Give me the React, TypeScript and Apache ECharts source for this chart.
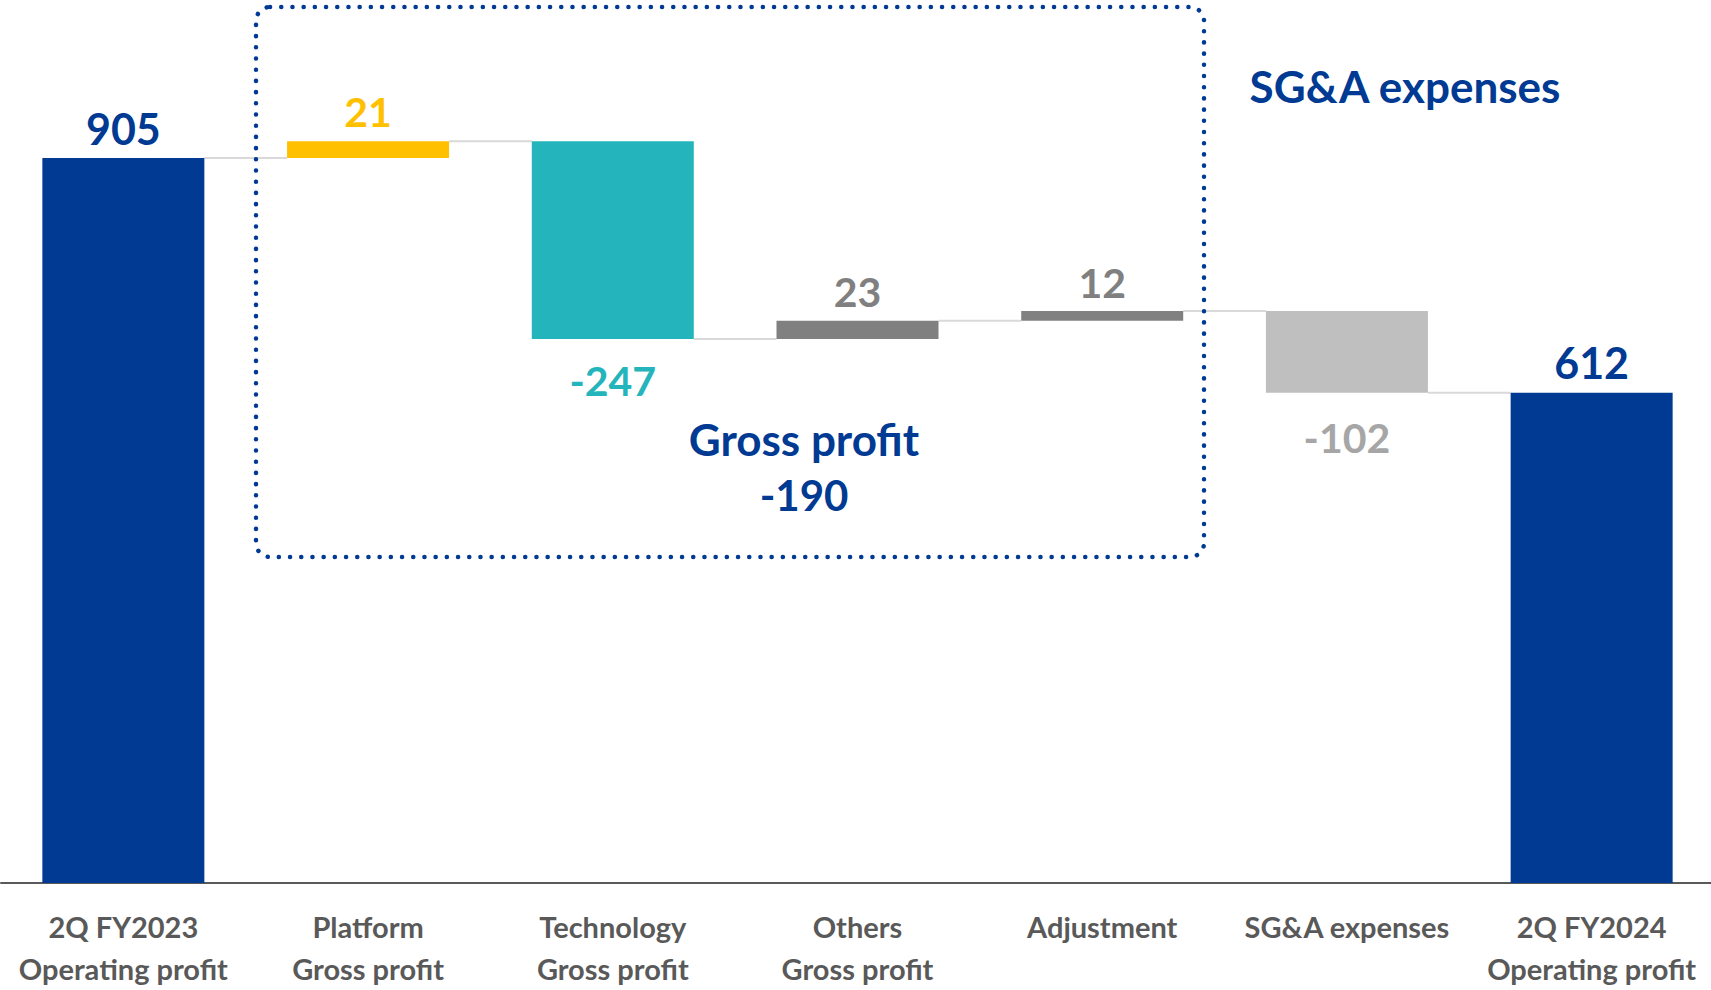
import React, { useEffect, useRef } from "react";
import * as echarts from "echarts";

const categories = [
  "2Q FY2023\nOperating profit",
  "Platform\nGross profit",
  "Technology\nGross profit",
  "Others\nGross profit",
  "Adjustment",
  "SG&A expenses",
  "2Q FY2024\nOperating profit",
];
// signed change (first & last are totals)
const changes = [905, 21, -247, 23, 12, -102, 612];
const isTotal = [true, false, false, false, false, false, true];
const barColors = ["#003A93", "#FFC000", "#23B5BB", "#808080", "#808080", "#BFBFBF", "#003A93"];
const labelColors = ["#003A93", "#FFC000", "#23B5BB", "#808080", "#808080", "#A6A6A6", "#003A93"];
const labelTexts = ["905", "21", "-247", "23", "12", "-102", "612"];
const grossProfitTotal = "-190";

const FONT = "Lato, 'Open Sans', sans-serif";

export default function App() {
  const ref = useRef<HTMLDivElement>(null);
  useEffect(() => {
    if (!ref.current) return;
    const chart = echarts.init(ref.current, undefined, { renderer: "svg" });

    const base: number[] = [];
    const vis: number[] = [];
    const ends: number[] = [];
    let run = 0;
    changes.forEach((c, i) => {
      if (isTotal[i]) {
        base.push(0);
        vis.push(c);
        run = c;
      } else {
        const next = run + c;
        base.push(Math.min(run, next));
        vis.push(Math.abs(c));
        run = next;
      }
      ends.push(run);
    });
    const connectors = ends.slice(0, -1).map((v, i) => [i, v]);
    const BW = 0.662;

    const barData = vis.map((v, i) => {
      const neg = changes[i] < 0;
      const big = isTotal[i];
      return {
        value: v,
        itemStyle: { color: barColors[i] },
        label: {
          show: true,
          position: neg ? "bottom" : "top",
          distance: neg ? (i === 5 ? 25 : 21) : (i === 1 ? 10 : 9),
          formatter: labelTexts[i],
          color: labelColors[i],
          fontSize: big ? 43 : 41,
          lineHeight: big ? 42 : 40,
          fontWeight: "bold",
          fontFamily: FONT,
        },
      };
    });

    const textStyle = (text: string, size: number) => ({
      text,
      fill: "#003A93",
      fontSize: size,
      fontWeight: "bold",
      fontFamily: FONT,
      align: "center",
      verticalAlign: "middle",
    });

    chart.setOption({
      animation: false,
      grid: {
        left: 1,
        width: 1713,
        top: 82,
        height: 801,
        containLabel: false,
        outerBoundsMode: "none",
      },
      xAxis: {
        type: "category",
        data: categories,
        axisLine: { lineStyle: { color: "#595959", width: 2 } },
        axisTick: { show: false },
        axisLabel: {
          interval: 0,
          color: "#595959",
          fontWeight: "bold",
          fontSize: 29,
          lineHeight: 42,
          margin: 22,
          fontFamily: FONT,
        },
      },
      yAxis: { type: "value", min: 0, max: 1000, show: false, splitLine: { show: false } },
      series: [
        {
          type: "bar",
          stack: "wf",
          data: base,
          barWidth: BW * 100 + "%",
          itemStyle: { color: "transparent" },
          silent: true,
        },
        {
          type: "bar",
          stack: "wf",
          data: barData,
          barWidth: BW * 100 + "%",
        },
        {
          type: "custom",
          data: connectors,
          z: 1,
          renderItem: (params: any, api: any) => {
            const i = api.value(0);
            const v = api.value(1);
            const p1 = api.coord([i, v]);
            const p2 = api.coord([i + 1, v]);
            const bw = api.size([1, 0])[0] * BW;
            return {
              type: "line",
              shape: { x1: p1[0] + bw / 2, y1: p1[1], x2: p2[0] - bw / 2, y2: p2[1] },
              style: { stroke: "#D9D9D9", lineWidth: 2 },
            };
          },
        },
      ],
      graphic: [
        {
          type: "rect",
          shape: { x: 256, y: 7, width: 948, height: 550, r: 14 },
          style: {
            fill: "none",
            stroke: "#003A93",
            lineWidth: 4.5,
            lineDash: [0.1, 11.1],
            lineCap: "round",
          },
          z: 10,
        },
        { type: "text", x: 1405, y: 86, style: textStyle("SG&A expenses", 44) },
        { type: "text", x: 804, y: 439, style: textStyle("Gross profit", 44) },
        { type: "text", x: 804, y: 495, style: textStyle(grossProfitTotal, 42) },
      ],
    });
    return () => chart.dispose();
  }, []);
  return (
    <div
      ref={ref}
      style={{ position: "fixed", left: 0, top: 0, width: 1711, height: 990, background: "#fff" }}
    />
  );
}
